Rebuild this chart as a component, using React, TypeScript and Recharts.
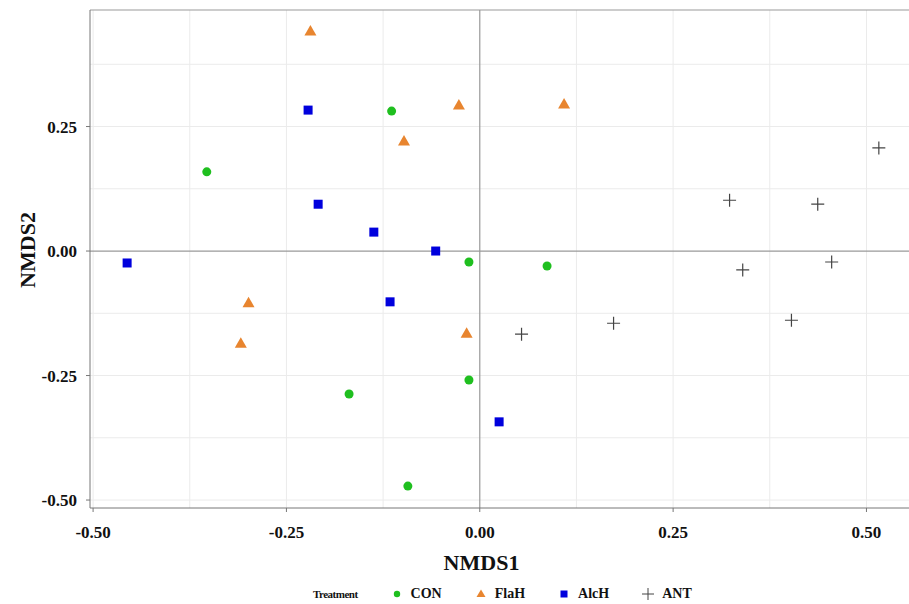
import React from 'react';
import { ScatterChart, Scatter, XAxis, YAxis, ReferenceLine } from 'recharts';

// NMDS coordinates
const con = [
  { x: -0.353, y: 0.159 },
  { x: -0.114, y: 0.281 },
  { x: -0.014, y: -0.022 },
  { x: 0.087, y: -0.030 },
  { x: -0.169, y: -0.287 },
  { x: -0.014, y: -0.259 },
  { x: -0.093, y: -0.472 },
];

const flaH = [
  { x: -0.219, y: 0.442 },
  { x: -0.027, y: 0.293 },
  { x: 0.109, y: 0.295 },
  { x: -0.098, y: 0.221 },
  { x: -0.299, y: -0.104 },
  { x: -0.309, y: -0.185 },
  { x: -0.017, y: -0.165 },
];

const alcH = [
  { x: -0.456, y: -0.024 },
  { x: -0.222, y: 0.283 },
  { x: -0.209, y: 0.094 },
  { x: -0.137, y: 0.038 },
  { x: -0.057, y: 0.000 },
  { x: -0.116, y: -0.102 },
  { x: 0.025, y: -0.343 },
];

const ant = [
  { x: 0.323, y: 0.102 },
  { x: 0.437, y: 0.094 },
  { x: 0.516, y: 0.207 },
  { x: 0.340, y: -0.038 },
  { x: 0.455, y: -0.022 },
  { x: 0.054, y: -0.167 },
  { x: 0.173, y: -0.145 },
  { x: 0.403, y: -0.139 },
];

const xDomain = [-0.504, 0.555];
const yDomain = [-0.516, 0.484];
const xTicks = [-0.5, -0.25, 0, 0.25, 0.5];
const yTicks = [-0.5, -0.25, 0, 0.25];
const xGrid = [-0.5, -0.375, -0.25, -0.125, 0.125, 0.25, 0.375, 0.5];
const yGrid = [-0.5, -0.375, -0.25, -0.125, 0.125, 0.25, 0.375];

const FONT = '"Liberation Serif", "Times New Roman", serif';
const GREEN = '#1fbf1f';
const ORANGE = '#e8852f';
const BLUE = '#0000dd';
const CROSS = '#444444';

const Dot = (p: any) => <circle cx={p.cx} cy={p.cy} r={4.5} fill={GREEN} />;
const Tri = (p: any) => (
  <polygon
    points={`${p.cx},${p.cy - 6} ${p.cx - 6},${p.cy + 4.5} ${p.cx + 6},${p.cy + 4.5}`}
    fill={ORANGE}
  />
);
const Sq = (p: any) => <rect x={p.cx - 4.5} y={p.cy - 4.5} width={9} height={9} fill={BLUE} />;
const Plus = (p: any) => (
  <path
    d={`M${p.cx - 6.5},${p.cy}H${p.cx + 6.5}M${p.cx},${p.cy - 6.5}V${p.cy + 6.5}`}
    stroke={CROSS}
    strokeWidth={1.2}
    fill="none"
  />
);

const fmt = (v: number) => v.toFixed(2);

const XTitle = ({ viewBox }: any) => {
  const cx = viewBox.x + viewBox.width / 2 - 18;
  return (
    <text x={cx} y={viewBox.y + 62} textAnchor="middle" fontFamily={FONT} fontWeight="bold" fontSize={22} fill="#111">
      NMDS1
    </text>
  );
};

const YTitle = ({ viewBox }: any) => {
  const cx = viewBox.x + 27;
  const cy = viewBox.y + viewBox.height / 2 - 9;
  return (
    <text
      x={cx}
      y={cy}
      transform={`rotate(-90 ${cx} ${cy})`}
      textAnchor="middle"
      dominantBaseline="central"
      fontFamily={FONT}
      fontWeight="bold"
      fontSize={22}
      fill="#111"
    >
      NMDS2
    </text>
  );
};

const legendItems = [
  { name: 'CON', kind: 'dot' },
  { name: 'FlaH', kind: 'tri' },
  { name: 'AlcH', kind: 'sq' },
  { name: 'ANT', kind: 'plus' },
];

const LegendIcon = ({ kind }: { kind: string }) => (
  <svg width={14} height={14} style={{ display: 'block' }}>
    {kind === 'dot' && <circle cx={7} cy={7} r={3.2} fill={GREEN} />}
    {kind === 'tri' && <polygon points="7,2.5 2.5,10 11.5,10" fill={ORANGE} />}
    {kind === 'sq' && <rect x={3.5} y={3.5} width={7} height={7} fill={BLUE} />}
    {kind === 'plus' && <path d="M1,7H13M7,1V13" stroke={CROSS} strokeWidth={1} fill="none" />}
  </svg>
);

export default function App() {
  const tickStyle = { fontFamily: FONT, fontWeight: 'bold', fontSize: 17, fill: '#111' };
  return (
    <div style={{ position: 'absolute', left: 0, top: 0, width: 909, height: 604, background: '#fff' }}>
      <ScatterChart width={909} height={604} margin={{ top: 10, right: 0, bottom: 0, left: 0 }}>
        {xGrid.map((v) => (
          <ReferenceLine key={`gx${v}`} x={v} stroke="#ebebeb" strokeWidth={1} />
        ))}
        {yGrid.map((v) => (
          <ReferenceLine key={`gy${v}`} y={v} stroke="#ebebeb" strokeWidth={1} />
        ))}
        <ReferenceLine x={0} stroke="#9a9a9a" strokeWidth={1.2} />
        <ReferenceLine y={0} stroke="#9a9a9a" strokeWidth={1.2} />
        <ReferenceLine y={yDomain[1]} stroke="#9a9a9a" strokeWidth={1.2} />
        <XAxis
          type="number"
          dataKey="x"
          domain={xDomain}
          ticks={xTicks}
          allowDataOverflow
          height={96}
          tickSize={4}
          tickMargin={14}
          tickFormatter={fmt}
          stroke="#777"
          tick={tickStyle}
          label={<XTitle />}
        />
        <YAxis
          type="number"
          dataKey="y"
          domain={yDomain}
          ticks={yTicks}
          allowDataOverflow
          width={90}
          tickSize={4}
          tickMargin={9}
          tickFormatter={fmt}
          stroke="#777"
          tick={tickStyle}
          label={<YTitle />}
        />
        <Scatter name="CON" data={con} shape={Dot} isAnimationActive={false} />
        <Scatter name="FlaH" data={flaH} shape={Tri} isAnimationActive={false} />
        <Scatter name="AlcH" data={alcH} shape={Sq} isAnimationActive={false} />
        <Scatter name="ANT" data={ant} shape={Plus} isAnimationActive={false} />
      </ScatterChart>
      <div
        style={{
          position: 'absolute',
          left: 313,
          top: 586,
          display: 'flex',
          alignItems: 'center',
          fontFamily: FONT,
          fontWeight: 'bold',
          color: '#111',
          height: 16,
        }}
      >
        <span style={{ fontSize: 11, letterSpacing: -0.5, marginRight: 32 }}>Treatment</span>
        {legendItems.map((it) => (
          <div key={it.name} style={{ display: 'flex', alignItems: 'center', marginRight: 32 }}>
            <LegendIcon kind={it.kind} />
            <span style={{ fontSize: 14, marginLeft: 7 }}>{it.name}</span>
          </div>
        ))}
      </div>
    </div>
  );
}
